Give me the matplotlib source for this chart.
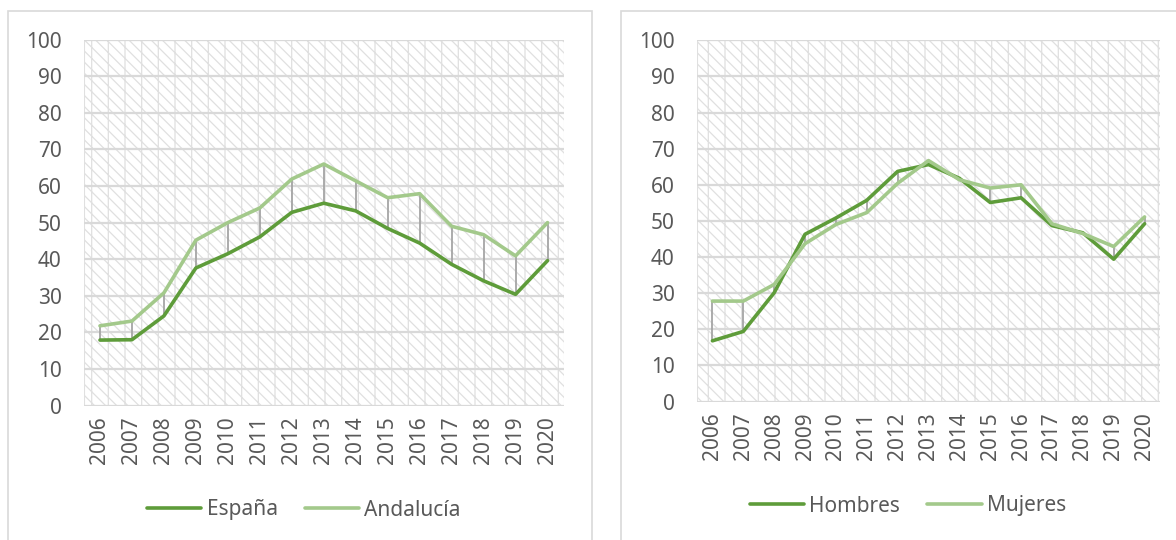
import matplotlib
matplotlib.use("Agg")
import matplotlib.pyplot as plt
from matplotlib.patches import Rectangle
import numpy as np

years = ["2006", "2007", "2008", "2009", "2010", "2011", "2012", "2013",
         "2014", "2015", "2016", "2017", "2018", "2019", "2020"]

espana = [17.9, 18.0, 24.5, 37.6, 41.5, 46.1, 52.8, 55.3, 53.2, 48.4, 44.4, 38.6, 34.1, 30.4, 39.6]
andalucia = [21.8, 23.1, 30.8, 45.2, 50.0, 54.0, 61.9, 66.0, 61.4, 56.8, 57.9, 49.0, 46.7, 40.9, 50.0]

hombres = [16.8, 19.4, 30.1, 46.3, 50.8, 55.7, 63.7, 65.6, 61.8, 55.1, 56.4, 48.7, 46.7, 39.4, 49.2]
mujeres = [27.8, 27.8, 32.4, 43.7, 49.0, 52.3, 60.4, 66.7, 61.4, 59.1, 60.0, 49.2, 46.5, 42.9, 51.1]

yticks = list(range(0, 101, 10))

DARK = "#5E9C3A"
LIGHT = "#A3C98B"
GRAY_TXT = "#595959"
GRID = "#D9D9D9"
HATCH = "#E0E0E0"
HL = "#A5A5A5"

plt.rcParams['font.family'] = ['Noto Sans', 'DejaVu Sans']
plt.rcParams['hatch.linewidth'] = 0.9

fig = plt.figure(figsize=(11.76, 5.40), dpi=100)

# chart borders
fig.patches.append(Rectangle((8/1176, -0.1), (592-8)/1176, 1.1 - 11/540,
                             transform=fig.transFigure, fill=False,
                             edgecolor=GRID, lw=1.2, zorder=0))
fig.patches.append(Rectangle((621/1176, -0.1), 0.6, 1.1 - 11/540,
                             transform=fig.transFigure, fill=False,
                             edgecolor=GRID, lw=1.2, zorder=0))


def panel(rect, s1, s2, n1, n2, leg_center):
    ax = fig.add_axes(rect)
    x = np.arange(len(years))
    ax.set_xlim(-0.5, len(years) - 0.5)
    ax.set_ylim(0, 100)
    bg = Rectangle((0, 0), 1, 1, transform=ax.transAxes, facecolor="white",
                   edgecolor=HATCH, hatch="\\\\\\|", lw=0.8, zorder=0)
    ax.add_patch(bg)
    for v in yticks:
        ax.axhline(v, color=GRID, lw=1.6, zorder=1)
    lo = np.minimum(s1, s2)
    hi = np.maximum(s1, s2)
    ax.vlines(x, lo, hi, color=HL, lw=1.3, zorder=2)
    l1, = ax.plot(x, s1, color=DARK, lw=2.6, zorder=3, solid_capstyle='round', label=n1)
    l2, = ax.plot(x, s2, color=LIGHT, lw=2.6, zorder=4, solid_capstyle='round', label=n2)
    for sp in ax.spines.values():
        sp.set_visible(False)
    ax.set_xticks(x)
    ax.set_xticklabels(years, rotation=90, fontsize=15, color=GRAY_TXT)
    ax.set_yticks(yticks)
    ax.set_yticklabels([str(v) for v in yticks], fontsize=15, color=GRAY_TXT)
    ax.tick_params(axis='both', length=0)
    ax.tick_params(axis='y', pad=16)
    ax.tick_params(axis='x', pad=8)
    ax.patch.set_visible(False)
    fig.legend(handles=[l1, l2], loc="center", bbox_to_anchor=leg_center,
               ncol=2, frameon=False, fontsize=15, handlelength=2.6,
               handletextpad=0.25, columnspacing=1.3, labelcolor=GRAY_TXT)
    return ax


panel([84/1176, 1 - 405.6/540, (563.5-84)/1176, (405.6-39.6)/540],
      espana, andalucia, "España", "Andalucía", (304/1176, 1 - 510/540))
panel([697/1176, 1 - 401.5/540, (1160-697)/1176, (401.5-40.3)/540],
      hombres, mujeres, "Hombres", "Mujeres", (908/1176, 1 - 506/540))

fig.savefig("out.png", dpi=100)
